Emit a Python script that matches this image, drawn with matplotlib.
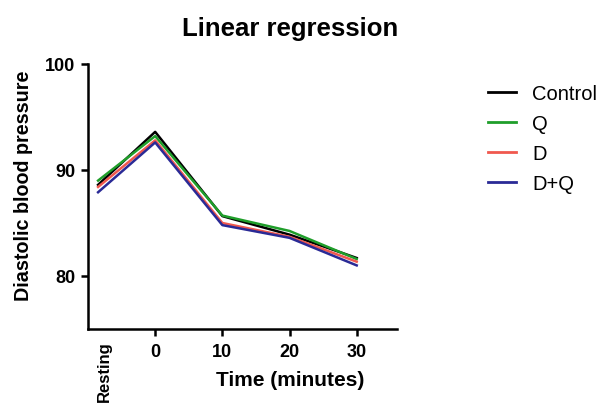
import matplotlib
matplotlib.use("Agg")
import matplotlib.pyplot as plt

plt.rcParams['font.family'] = ['Liberation Sans', 'DejaVu Sans']

x_labels = ["Resting", "0", "10", "20", "30"]
x_pos = [-8.5, 0, 10, 20, 30]
series_names = ["Control", "Q", "D", "D+Q"]
control = [88.6, 93.6, 85.65, 83.9, 81.7]
q = [89.0, 93.2, 85.7, 84.25, 81.6]
d = [88.4, 92.8, 85.0, 83.7, 81.35]
dq = [87.9, 92.6, 84.8, 83.6, 81.0]
colors = ["#000000", "#1f9e2a", "#f0584e", "#2a2a96"]

W, H = 602, 410
fig = plt.figure(figsize=(W / 100, H / 100), dpi=100)
ax = fig.add_axes([88 / W, 1 - 330 / H, (397 - 88) / W, (330 - 65) / H])

for name, vals, c in zip(series_names, [control, q, d, dq], colors):
    ax.plot(x_pos, vals, color=c, lw=1.8, label=name)

ax.set_xlim(-10, 36)
ax.set_ylim(75, 100)
ax.set_yticks([80, 90, 100])
ax.set_xticks([0, 10, 20, 30])
ax.set_xticklabels(x_labels[1:])
for lab in ax.get_xticklabels() + ax.get_yticklabels():
    lab.set_fontweight('bold')
    lab.set_fontsize(13)

for s in ['top', 'right']:
    ax.spines[s].set_visible(False)
for s in ['left', 'bottom']:
    ax.spines[s].set_linewidth(1.8)
ax.tick_params(width=1.8, length=5)
ax.tick_params(axis='y', pad=4)
ax.tick_params(axis='x', pad=5)

# "Resting" category label, rotated, below the axis
ax.annotate(x_labels[0], xy=(-7.6, 0), xycoords=('data', 'axes fraction'),
            xytext=(0, -8), textcoords='offset points', rotation=90,
            ha='center', va='top', fontsize=12, fontweight='bold')

fig.text(290 / W, 1 - 381 / H, "Time (minutes)", ha='center', va='center',
         fontsize=15, fontweight='bold')
fig.text(24 / W, 1 - 186 / H, "Diastolic blood pressure", ha='center', va='center',
         rotation=90, fontsize=14.2, fontweight='bold')
fig.text(290 / W, 1 - 29 / H, "Linear regression", ha='center', va='center',
         fontsize=18.5, fontweight='bold')

leg = fig.legend(*ax.get_legend_handles_labels(), loc='upper left',
                 bbox_to_anchor=(478 / W, 1 - 75 / H), frameon=False,
                 fontsize=14.5, handlelength=1.4, labelspacing=0.55,
                 handletextpad=0.8, borderpad=0)
for line in leg.get_lines():
    line.set_linewidth(2)

fig.savefig("out.png", dpi=100)
